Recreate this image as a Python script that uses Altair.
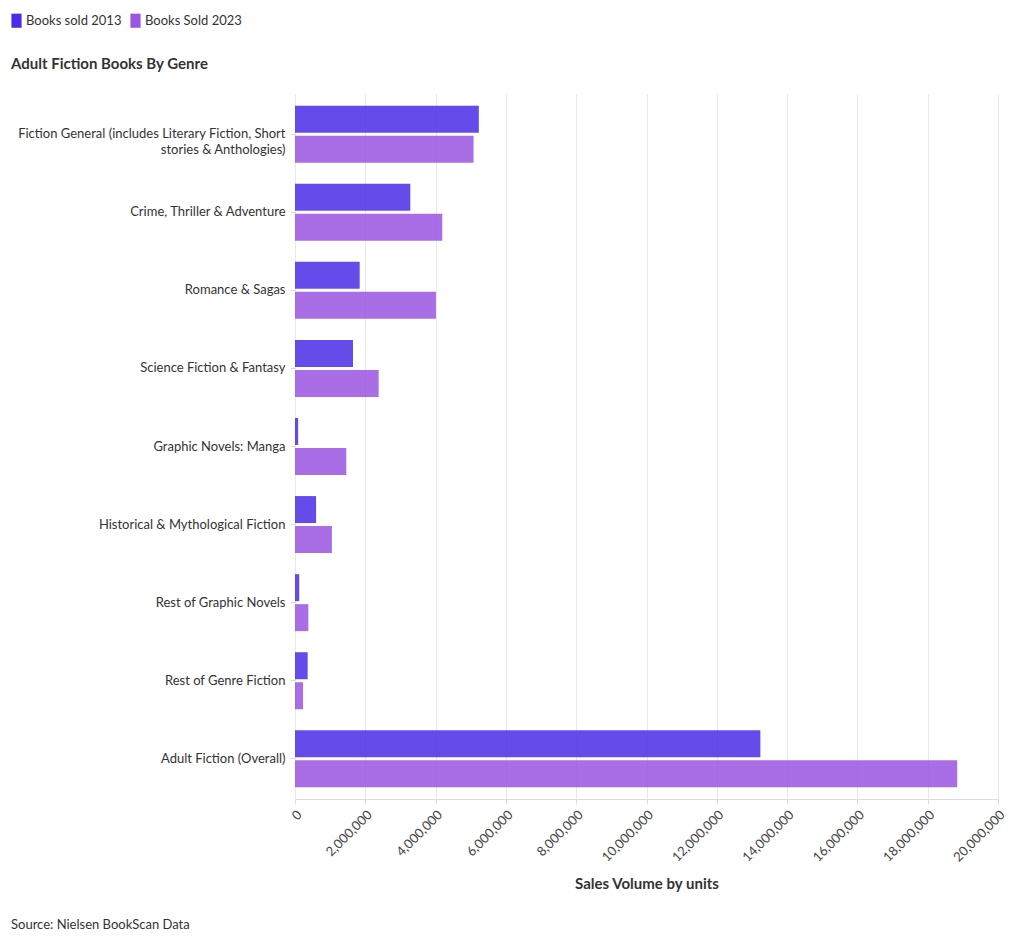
import altair as alt
import pandas as pd

categories = [
    "Fiction General (includes Literary Fiction, Short stories & Anthologies)",
    "Crime, Thriller & Adventure",
    "Romance & Sagas",
    "Science Fiction & Fantasy",
    "Graphic Novels: Manga",
    "Historical & Mythological Fiction",
    "Rest of Graphic Novels",
    "Rest of Genre Fiction",
    "Adult Fiction (Overall)",
]
sold_2013 = [5230000, 3280000, 1840000, 1650000, 90000, 600000, 120000, 360000, 13240000]
sold_2023 = [5080000, 4190000, 4010000, 2380000, 1460000, 1050000, 380000, 230000, 18840000]
series_names = ["Books sold 2013", "Books Sold 2023"]
series_colors = ["#4a2de6", "#9a55e2"]
x_ticks = list(range(0, 20000001, 2000000))
chart_title = "Adult Fiction Books By Genre"
source_note = "Source: Nielsen BookScan Data"

rows = []
for c, a, b in zip(categories, sold_2013, sold_2023):
    rows.append({"genre": c, "series": series_names[0], "value": a})
    rows.append({"genre": c, "series": series_names[1], "value": b})
df = pd.DataFrame(rows)

FONT = "Lato"

label_expr = (
    "datum.value == '" + categories[0] + "' ? "
    "['Fiction General (includes Literary Fiction, Short', 'stories & Anthologies)'] : datum.label"
)

bars = alt.Chart(df).mark_bar(opacity=0.85).encode(
    x=alt.X(
        "value:Q",
        scale=alt.Scale(domain=[0, 20000000], nice=False),
        axis=alt.Axis(
            values=x_ticks,
            format=",d",
            labelAngle=-45,
            title="Sales Volume by units",
            grid=True,
            gridColor="#e8e8e8",
            domainColor="#dcdcdc",
            tickColor="#dcdcdc",
            tickSize=5,
            labelFont=FONT,
            labelFontSize=13,
            labelColor="#444444",
            labelPadding=4,
            titleFont=FONT,
            titleFontSize=15,
            titleFontWeight="bold",
            titleColor="#333333",
            titlePadding=12,
        ),
    ),
    y=alt.Y(
        "genre:N",
        sort=categories,
        scale=alt.Scale(paddingInner=0.27, paddingOuter=0.15),
        axis=alt.Axis(
            title=None,
            domain=False,
            grid=False,
            ticks=True,
            tickColor="#dcdcdc",
            tickSize=5,
            labelFont=FONT,
            labelFontSize=13,
            labelColor="#333333",
            labelPadding=5,
            labelLimit=400,
            labelLineHeight=16,
            labelExpr=label_expr,
        ),
    ),
    yOffset=alt.YOffset("series:N", sort=series_names, scale=alt.Scale(paddingInner=0.1)),
    color=alt.Color(
        "series:N",
        sort=series_names,
        scale=alt.Scale(domain=series_names, range=series_colors),
        legend=alt.Legend(
            title=None,
            orient="none",
            legendX=-286,
            legendY=-81,
            direction="horizontal",
            symbolType="M-0.72,-1H0.72V1H-0.72Z",
            symbolSize=200,
            symbolOpacity=1,
            symbolStrokeWidth=0,
            labelFont=FONT,
            labelFontSize=13,
            labelColor="#333333",
            columnPadding=6,
            labelOffset=2,
        ),
    ),
)

title_mark = alt.Chart(pd.DataFrame({"t": [chart_title]})).mark_text(
    align="left", baseline="middle", font=FONT, fontSize=15, fontWeight="bold", color="#333333"
).encode(text="t:N", x=alt.value(-284), y=alt.value(-30))

src = alt.Chart(pd.DataFrame({"t": [source_note]})).mark_text(
    align="left", baseline="middle", font=FONT, fontSize=13, color="#333333"
).encode(text="t:N", x=alt.value(-284), y=alt.value(831))

chart = alt.layer(bars, title_mark, src).properties(
    width=703,
    height=705,
    background="white",
    autosize=alt.AutoSizeParams(type="none"),
    padding={"left": 287, "top": 86, "right": 14, "bottom": 142},
).configure_view(stroke="transparent", strokeWidth=0)

chart.save("out.html", embed_options={"renderer": "svg", "actions": False})
